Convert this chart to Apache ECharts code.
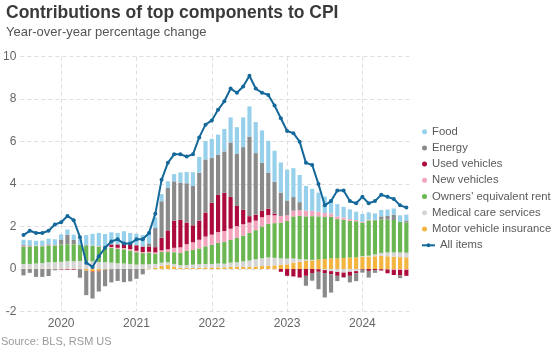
<!DOCTYPE html>
<html><head><meta charset="utf-8">
<script src="https://cdn.jsdelivr.net/npm/echarts@6/dist/echarts.min.js"></script>
<style>html,body{margin:0;padding:0;background:#fff}#c{width:553px;height:347px}</style>
</head><body><div id="c"></div>
<script>
const months = ['2019-06','2019-07','2019-08','2019-09','2019-10','2019-11','2019-12',
'2020-01','2020-02','2020-03','2020-04','2020-05','2020-06','2020-07','2020-08','2020-09','2020-10','2020-11','2020-12',
'2021-01','2021-02','2021-03','2021-04','2021-05','2021-06','2021-07','2021-08','2021-09','2021-10','2021-11','2021-12',
'2022-01','2022-02','2022-03','2022-04','2022-05','2022-06','2022-07','2022-08','2022-09','2022-10','2022-11','2022-12',
'2023-01','2023-02','2023-03','2023-04','2023-05','2023-06','2023-07','2023-08','2023-09','2023-10','2023-11','2023-12',
'2024-01','2024-02','2024-03','2024-04','2024-05','2024-06','2024-07'];
const tickMonths = ['2019-12','2020-12','2021-12','2022-12','2023-12'];
const tickLabels = ['2020','2021','2022','2023','2024'];

const allItems = [1.6,1.8,1.7,1.7,1.8,2.1,2.2,
2.5,2.3,1.5,0.3,0.1,0.6,1.0,1.3,1.4,1.2,1.2,1.4,
1.4,1.7,2.6,4.2,5.0,5.4,5.4,5.3,5.4,6.2,6.8,7.0,
7.5,7.9,8.5,8.3,8.6,9.1,8.5,8.3,8.2,7.7,7.1,6.5,
6.4,6.0,5.0,4.9,4.0,3.0,3.2,3.7,3.7,3.2,3.1,3.4,
3.1,3.2,3.5,3.4,3.3,3.0,2.9];
const food = [.27,.26,.23,.24,.28,.27,.24,
.25,.25,.26,.48,.55,.62,.57,.57,.54,.54,.51,.54,
.54,.51,.50,.34,.31,.34,.48,.53,.65,.75,.87,.89,
.94,1.06,1.18,1.26,1.40,1.42,1.46,1.53,1.50,1.46,1.42,1.45,
1.36,1.28,1.15,1.04,.90,.77,.66,.58,.50,.45,.39,.36,
.35,.30,.30,.30,.29,.30,.30];
const energy = [-.30,-.18,-.37,-.37,-.33,-.05,.24,
.43,.19,-.40,-1.15,-1.25,-.95,-.78,-.62,-.56,-.62,-.58,-.46,
-.25,.15,.90,1.72,2.0,1.85,1.75,1.85,1.85,2.25,2.5,2.12,
1.90,1.95,2.56,2.45,2.95,3.75,2.9,2.25,1.7,1.5,1.1,.7,
.64,.38,-.47,-.36,-.82,-1.15,-.86,-.25,-.03,-.31,-.37,-.14,
-.31,-.13,.14,.17,.25,-.13,.07];
const usedVehicles = [.03,.02,0,.01,.02,-.01,-.02,
-.03,-.03,-.01,.01,-.02,-.03,0,.12,.16,.25,.25,.26,
.26,.25,.25,.59,.89,1.28,1.3,1.02,.8,.9,1.13,1.5,
1.75,1.8,1.5,.95,.68,.3,.28,.31,.3,.08,-.13,-.32,
-.35,-.4,-.32,-.19,-.12,-.14,-.15,-.18,-.21,-.19,-.1,-.03,
-.09,-.05,-.06,-.18,-.24,-.26,-.28];
const newVehicles = [.02,.02,.02,.02,.02,.02,.02,
.01,.01,0,0,.02,.03,.04,.04,.05,.06,.07,.07,
.05,.05,.06,.08,.13,.21,.26,.31,.36,.41,.46,.48,
.51,.52,.53,.56,.54,.49,.45,.44,.41,.37,.32,.27,
.27,.27,.28,.25,.22,.19,.16,.13,.11,.09,.06,.05,
.03,.02,-.01,-.02,-.04,-.04,-.04];
const oer = [.82,.82,.82,.79,.79,.79,.79,
.8,.8,.76,.74,.73,.72,.72,.7,.68,.67,.63,.58,
.53,.53,.48,.5,.48,.55,.58,.67,.69,.74,.83,.9,
.97,1.02,1.07,1.14,1.21,1.3,1.37,1.49,1.58,1.63,1.68,1.77,
1.98,2.03,2.03,2.06,2.03,1.98,1.96,1.85,1.8,1.73,1.7,1.57,
1.66,1.61,1.58,1.55,1.53,1.45,1.42];
const medical = [.22,.22,.24,.26,.3,.3,.32,
.35,.35,.36,.37,.36,.33,.32,.3,.27,.25,.23,.2,
.2,.2,.18,.15,.12,.12,.12,.14,.16,.17,.17,.17,
.18,.17,.2,.22,.26,.3,.34,.37,.4,.36,.3,.27,
.2,.14,.07,.03,-.01,-.05,-.1,-.14,-.17,-.13,-.1,.04,
.05,.09,.14,.18,.2,.22,.22];
const insurance = [.02,.02,.02,.02,.02,.02,.02,
.02,.02,.02,-.08,-.12,-.08,-.03,-.01,0,.01,.01,.01,
.02,.03,.06,.15,.2,.12,.06,.05,.05,.06,.07,.07,
.08,.08,.1,.1,.1,.1,.12,.14,.15,.17,.2,.22,
.3,.33,.38,.4,.45,.47,.5,.5,.52,.54,.55,.57,
.58,.6,.62,.6,.58,.56,.55];

const FONT = '"Liberation Sans", Arial, sans-serif';
const stackOrder = [
  ['Motor vehicle insurance', insurance, '#f3b53f'],
  ['Medical care services', medical, '#d5d5d5'],
  ['Owners\u2019 equivalent rent', oer, '#6ab650'],
  ['New vehicles', newVehicles, '#f2a4bc'],
  ['Used vehicles', usedVehicles, '#ac0b3b'],
  ['Energy', energy, '#8a8a8a'],
  ['Food', food, '#96d0ea']
];
const legendOrder = ['Food','Energy','Used vehicles','New vehicles','Owners\u2019 equivalent rent','Medical care services','Motor vehicle insurance'];

const series = stackOrder.map(([name, data, color]) => ({
  name, type: 'bar', stack: 'c', data, barWidth: '66%',
  itemStyle: {color}, emphasis: {disabled: true}
}));
series.push({
  name: 'All items', type: 'line', data: allItems, z: 5,
  color: '#14689a', lineStyle: {width: 2, color: '#14689a'},
  symbol: 'circle', symbolSize: 4, showSymbol: true,
  itemStyle: {color: '#14689a'}, emphasis: {disabled: true}
});

const chart = echarts.init(document.getElementById('c'), null, {renderer: 'canvas'});
chart.setOption({
  animation: false,
  textStyle: {fontFamily: FONT},
  title: [{
    text: 'Contributions of top components to CPI',
    subtext: 'Year-over-year percentage change',
    left: 1, top: -1, itemGap: 4,
    textStyle: {fontFamily: FONT, fontSize: 17.5, fontWeight: 'bold', color: '#3a3a3a'},
    subtextStyle: {fontFamily: FONT, fontSize: 13, color: '#555'}
  }, {
    text: 'Source: BLS, RSM US',
    left: 1, top: 336, padding: 0,
    textStyle: {fontFamily: FONT, fontSize: 11, fontWeight: 'normal', color: '#9a9a9a'}
  }],
  legend: [{
    data: legendOrder, orient: 'vertical', left: 422, top: 123.7, padding: 0,
    itemWidth: 5, itemHeight: 5, icon: 'circle', itemGap: 0.2,
    textStyle: {fontFamily: FONT, fontSize: 11.3, color: '#5a5a5a', lineHeight: 16},
    selectedMode: false
  }, {
    data: ['All items'], orient: 'vertical', left: 421, top: 237.3, padding: 0,
    itemWidth: 13, itemHeight: 5, itemGap: 0,
    textStyle: {fontFamily: FONT, fontSize: 11.3, color: '#5a5a5a', lineHeight: 16},
    selectedMode: false
  }],
  grid: {left: 20, right: 143.5, top: 56.7, bottom: 35.5},
  xAxis: {
    type: 'category', data: months, boundaryGap: true,
    axisLine: {show: false}, axisTick: {show: false},
    axisLabel: {
      interval: (i, v) => tickMonths.includes(v),
      formatter: (v) => { const k = tickMonths.indexOf(v); return k >= 0 ? tickLabels[k] : ''; },
      color: '#666', fontSize: 12, margin: 6, fontFamily: FONT
    },
    splitLine: {show: true, interval: (i, v) => tickMonths.includes(v), alignWithLabel: true,
      lineStyle: {color: '#dedede', type: [4, 3], width: 1}}
  },
  yAxis: {
    type: 'value', min: -2, max: 10, interval: 2,
    axisLine: {show: false}, axisTick: {show: false},
    axisLabel: {color: '#666', fontSize: 12, margin: 4, fontFamily: FONT},
    splitLine: {lineStyle: {color: '#dedede', type: [4, 3], width: 1}}
  },
  series
});
</script></body></html>
